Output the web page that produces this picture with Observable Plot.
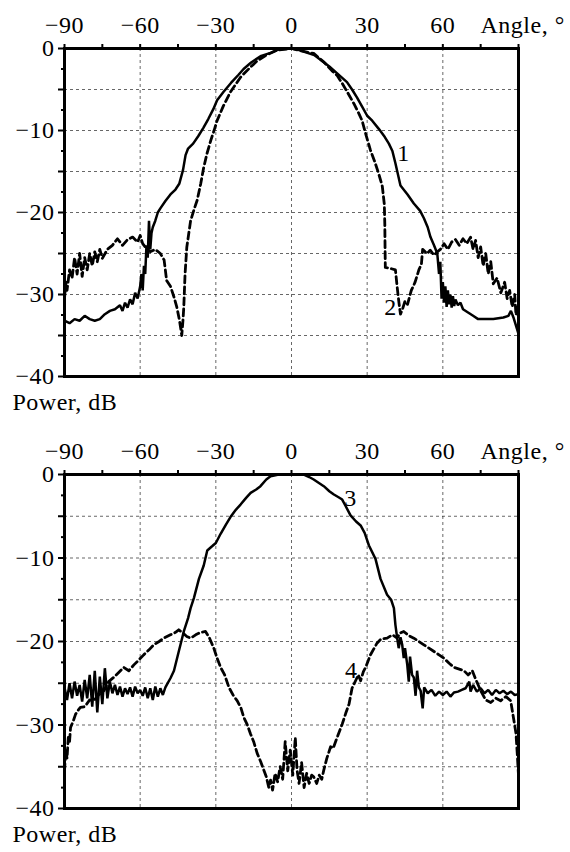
<!DOCTYPE html>
<html><head><meta charset="utf-8">
<script src="https://cdn.jsdelivr.net/npm/d3@7"></script>
<script src="https://cdn.jsdelivr.net/npm/@observablehq/plot@0.6"></script>
<style>
body{margin:0;background:#fff;}
#chart svg{display:block;}
#chart svg, #chart svg text{font-family:"Liberation Serif","Times New Roman",serif !important;font-size:24px !important;letter-spacing:0.5px;}
</style></head><body><div id="chart"></div>
<script>
// ---- Data (angle in degrees, power in dB) ----
const angle1 = [-90,-88,-86,-84,-82,-80,-78,-76,-74,-72,-70,-68,-67,-66,-65,-64,-63,-62,-61,-60,-59.5,-59,-58.5,-58,-57.5,-57,-56.5,-56,-55.5,-55,-54,-53,-52,-50,-48,-46,-44.5,-43,-42,-41,-39,-37,-35,-33,-31,-29.5,-27,-24,-21,-19,-16,-12,-8,-5,0,3,6,9,12,15,18,22,24,26,28,30,32,34.6,37,38.6,40,41.2,43.2,46,48.5,51,52.5,54,55.1,56.5,57.8,58.5,59,59.5,60,60.5,61,61.5,62,62.5,63,63.5,64,64.5,65,66,67,68,70,72,74,76,78,80,82,84,86,87,88,89,90];
const power1 = [-33.2,-33.5,-33.0,-33.2,-32.6,-33.0,-33.2,-33.0,-32.4,-32.0,-31.8,-31.3,-32.0,-31.0,-31.6,-30.6,-31.2,-29.8,-30.5,-29.0,-27.5,-29.5,-26.5,-27.5,-24.0,-25.5,-21.0,-24.5,-22.5,-21.8,-21.0,-20.0,-19.5,-18.6,-17.8,-17.2,-16.5,-14.8,-13.0,-12.2,-11.6,-10.7,-9.7,-8.6,-7.4,-6.3,-5.3,-4.2,-3.2,-2.5,-1.7,-0.9,-0.5,-0.1,0,-0.2,-0.5,-0.8,-1.5,-2.2,-3.0,-4.1,-5.0,-6.0,-7.1,-8.2,-8.8,-9.8,-10.8,-11.6,-12.5,-14.0,-16.7,-17.8,-18.9,-19.8,-20.7,-21.8,-23.0,-24.0,-25.0,-27.5,-26.0,-30.5,-28.5,-31.0,-29.0,-31.5,-29.5,-31.2,-30.0,-31.6,-30.2,-31.4,-30.6,-31.3,-31.0,-31.8,-32.2,-32.6,-33.0,-33.0,-33.0,-33.0,-32.9,-32.8,-32.6,-32.0,-32.8,-33.8,-34.8];

const angle2 = [-90,-89.5,-89,-88,-87,-86,-85,-84,-83,-82,-81,-80,-79,-78,-77,-76,-75,-73,-71,-69,-67,-65,-63,-61,-60,-59,-58,-56,-54,-52,-50.5,-49.5,-48,-46.6,-45.5,-44.5,-43.5,-43,-42.7,-42.2,-41.5,-40,-38.5,-37.4,-36,-34.8,-33.5,-32,-30.5,-29.5,-27,-24.2,-20.2,-17,-13.6,-10,-5.7,0,4,8.8,13,16,18.1,20,22.1,24.7,26.5,28,29.5,31.3,33,34.6,36,36.8,37,37.1,37.2,39,41.2,41.9,42.6,43.2,44,45,46,47.5,49,50.5,51.5,52,53.8,55,56.5,57.8,59,60.5,62,63.5,65,66.5,68,69.5,71,72,73,74,75,76,77,78,79,80,81.5,83,84.5,85.5,86.5,87.5,88.5,89,90];
const power2 = [-30.5,-28.5,-29.5,-27.0,-28.0,-25.5,-27.5,-25.0,-27.8,-25.5,-27.0,-25.0,-26.5,-24.8,-26.0,-24.5,-25.6,-24.5,-24.0,-23.2,-24.0,-23.3,-23.0,-23.6,-22.8,-23.8,-24.2,-24.8,-24.5,-25.0,-25.8,-28.3,-29.0,-30.3,-31.5,-33.0,-35.0,-33.0,-31.5,-27.5,-24.2,-21.0,-19.5,-18.5,-16.5,-14.5,-12.8,-11.2,-9.8,-8.8,-7.0,-5.3,-3.5,-2.5,-1.5,-0.8,-0.2,0,-0.3,-0.6,-1.7,-2.7,-3.3,-4.2,-5.3,-6.7,-7.8,-8.8,-10.5,-12.4,-13.8,-15.3,-16.8,-19.0,-21.5,-24.5,-26.7,-26.8,-27.0,-29.1,-31.0,-32.4,-31.8,-30.8,-31.2,-29.5,-28.5,-27.0,-26.3,-24.5,-25.0,-24.6,-25.2,-24.8,-24.5,-23.8,-24.5,-23.6,-23.3,-24.0,-23.2,-23.8,-23.0,-24.5,-23.4,-25.5,-24.2,-26.5,-25.0,-27.5,-26.0,-28.7,-28.0,-29.8,-28.5,-30.5,-29.5,-31.5,-30.0,-32.5,-31.0];

const angle3 = [-90,-89,-88,-87,-86,-85,-84,-83,-82,-81,-80,-79,-78,-77,-76,-75,-74,-73,-72,-71,-70,-69,-68,-67,-66,-65,-64,-63,-62,-61,-60,-59,-58,-57,-56,-55,-54,-53,-52,-51,-50,-49.3,-48,-46.6,-44.7,-42.7,-41,-40,-38.7,-36.7,-34.8,-33.4,-31.5,-30,-28.1,-26,-24.2,-22,-20.2,-18,-16.2,-14,-12.3,-10,-8.3,-5,0,4.9,7,8.8,12.8,15,16.8,18.5,20.1,21.5,23.4,25.5,27.4,29,30.7,33.3,35.3,37.9,39.5,40.6,41.2,41.9,42.5,43.2,43.9,44.5,45,45.9,46.5,47,47.8,48.5,49.2,49.8,50.5,51.2,52,52.6,54,55.5,57,58.5,60,61.5,63,64.4,66,67.5,69,70.5,71,72,73.5,75,76.5,78,79.5,81,82.5,84,85.5,87,88.5,90];
const power3 = [-25.5,-27.0,-25.0,-26.8,-24.8,-26.5,-25.2,-27.2,-24.6,-26.8,-24.0,-27.8,-23.5,-28.5,-24.2,-27.5,-23.2,-26.8,-24.8,-26.2,-25.2,-26.4,-25.4,-26.6,-25.6,-26.3,-25.5,-26.6,-25.4,-26.2,-25.8,-26.5,-25.5,-26.8,-25.6,-27.0,-25.4,-26.6,-25.6,-26.4,-25.5,-25.1,-24.4,-23.5,-21.2,-18.8,-17.2,-16.0,-14.8,-12.5,-10.9,-9.1,-8.6,-8.2,-7.1,-6.0,-5.1,-4.2,-3.6,-2.8,-2.2,-1.8,-1.4,-0.6,-0.2,0,0,0,-0.3,-0.6,-1.4,-2.0,-2.4,-2.7,-3.0,-3.8,-4.9,-5.6,-6.1,-7.0,-8.5,-10.1,-12.5,-14.4,-15.0,-16.0,-18.0,-19.6,-20.8,-19.5,-20.4,-22.0,-20.8,-22.8,-24.8,-21.8,-24.0,-24.3,-26.5,-23.5,-25.5,-25.9,-28.0,-25.5,-26.2,-25.8,-26.5,-26.0,-26.4,-26.0,-26.6,-26.1,-26.0,-25.8,-25.6,-24.8,-26.0,-25.2,-26.0,-25.6,-26.2,-25.8,-26.4,-25.8,-26.2,-25.9,-26.3,-26.0,-26.4,-26.3];

const angle4 = [-90,-89.5,-89,-88.5,-88,-87.6,-86.5,-85.6,-84.5,-83.7,-82,-80,-78.4,-76.5,-74.4,-72.5,-70.5,-68.5,-66.5,-64.5,-62.5,-60.5,-58.6,-56.5,-54.6,-52.5,-50.6,-48,-46,-44.7,-43,-41.5,-40,-38,-36,-34.1,-32.5,-30.8,-29.5,-28.1,-26.5,-24.8,-23,-21.5,-20,-18.9,-17.5,-16.2,-15,-13.6,-12.2,-11,-10,-9,-8.3,-7.5,-6.5,-5.5,-4.5,-3.5,-2.5,-1.5,-0.5,0.5,1.5,2.2,3,4,5,6,7,8,8.8,10,11,12,12.8,14,15.5,16.5,18.1,20.1,21.5,22.8,24,25.4,26.5,27.4,28.5,29.4,31.3,33.9,35.5,37.9,40,41.9,43,44.5,46.5,48.5,50.5,52.5,54.5,56.5,58.5,60.4,62.5,64.4,66.5,68.4,70,71.7,73,75,77,79,81,82.9,85,86.9,88.2,89,89.5,90];
const power4 = [-35.5,-33.0,-34.0,-31.5,-32.0,-30.3,-29.5,-28.7,-28.2,-27.9,-27.8,-27.0,-27.1,-26.4,-25.9,-24.8,-24.3,-23.7,-23.1,-23.5,-22.8,-22.2,-21.6,-21.0,-20.4,-20.0,-19.6,-19.2,-18.9,-18.6,-19.0,-19.4,-19.6,-19.2,-18.9,-18.8,-19.6,-20.8,-22.0,-23.1,-24.0,-25.5,-26.5,-27.1,-28.0,-29.1,-30.0,-31.1,-32.0,-33.4,-34.4,-35.4,-36.2,-37.5,-36.6,-37.8,-35.8,-36.8,-35.0,-36.5,-32.0,-35.5,-33.0,-36.0,-31.5,-35.4,-37.0,-34.5,-37.5,-35.8,-37.0,-36.0,-36.2,-37.0,-36.0,-36.5,-35.4,-34.0,-32.6,-32.8,-31.5,-29.9,-28.6,-27.5,-25.6,-24.7,-24.0,-24.7,-23.6,-23.1,-21.6,-20.2,-19.7,-19.6,-19.2,-19.6,-19.0,-18.8,-19.3,-19.6,-20.0,-20.4,-20.8,-21.2,-21.6,-22.0,-22.6,-23.1,-23.3,-23.5,-24.0,-23.5,-24.5,-25.9,-27.0,-27.3,-26.8,-27.1,-26.6,-27.1,-29.5,-31.0,-33.4,-36.0];

const labelText1 = ["1","2"], labelAngle1 = [44.4, 39.3], labelPower1 = [-12.8, -31.6];
const labelText2 = ["3","4"], labelAngle2 = [23.4, 23.7], labelPower2 = [-2.85, -23.4];

const xTicks = [-90,-75,-60,-45,-30,-15,0,15,30,45,60,75,90];
const xTickLabels = [-90,-60,-30,0,30,60];
const xGrid = [-60,-30,0,30,60];
const yMajor = [0,-5,-10,-15,-20,-25,-30,-35,-40];
const yMinor = [-2.5,-7.5,-12.5,-17.5,-22.5,-27.5,-32.5,-37.5];
const yTickLabels = [0,-10,-20,-30,-40];
const yGrid = [-5,-10,-15,-20,-25,-30,-35];
const xTitle = "Angle, °", yTitle = "Power, dB";

const fmt = d => (d < 0 ? "\u2212" + Math.abs(d) : String(d));
const rows = (a, p) => a.map((x, i) => ({angle: x, power: p[i]}));

function panel({solid, dashed, labels, height, marginTop, marginBottom}) {
  return Plot.plot({
    width: 570, height, marginLeft: 64, marginRight: 52, marginTop, marginBottom,
    style: {fontFamily: "'Liberation Serif', 'Times New Roman', serif", fontSize: "24px", background: "#fff", color: "#000"},
    x: {domain: [-90, 90]},
    y: {domain: [-40, 0]},
    marks: [
      Plot.gridX(xGrid, {stroke: "#000", strokeOpacity: 0.75, strokeWidth: 0.8, strokeDasharray: "3,3"}),
      Plot.gridY(yGrid, {stroke: "#000", strokeOpacity: 0.75, strokeWidth: 0.8, strokeDasharray: "3,3"}),
      Plot.line(solid, {x: "angle", y: "power", stroke: "#000", strokeWidth: 2.5, strokeLinejoin: "miter"}),
      Plot.line(dashed, {x: "angle", y: "power", stroke: "#000", strokeWidth: 2.8, strokeDasharray: "7,4"}),
      Plot.axisX({anchor: "top", ticks: xTicks, tickSize: 5, tickPadding: 11, strokeWidth: 2,
        tickFormat: d => xTickLabels.includes(d) ? fmt(d) : "", label: null}),
      Plot.axisY({ticks: yMajor, tickSize: 6, tickPadding: 4, strokeWidth: 2,
        tickFormat: d => yTickLabels.includes(d) ? fmt(d) : "", label: null}),
      Plot.axisY({ticks: yMinor, tickSize: 3, strokeWidth: 2, tickFormat: () => "", label: null}),
      Plot.frame({stroke: "#000", strokeWidth: 3}),
      Plot.text([xTitle], {frameAnchor: "top-right", textAnchor: "start", lineAnchor: "bottom", dx: -38, dy: -16}),
      Plot.text([yTitle], {frameAnchor: "bottom-left", textAnchor: "start", dx: -52, dy: 33}),
      Plot.text(labels, {x: "angle", y: "power", text: "text"})
    ]
  });
}

const lab = (t, a, p) => t.map((s, i) => ({text: s, angle: a[i], power: p[i]}));
const root = document.getElementById("chart");
root.append(panel({solid: rows(angle1, power1), dashed: rows(angle2, power2), labels: lab(labelText1, labelAngle1, labelPower1), height: 420, marginTop: 48, marginBottom: 44}));
root.append(panel({solid: rows(angle3, power3), dashed: rows(angle4, power4), labels: lab(labelText2, labelAngle2, labelPower2), height: 432, marginTop: 54, marginBottom: 44}));
</script></body></html>
